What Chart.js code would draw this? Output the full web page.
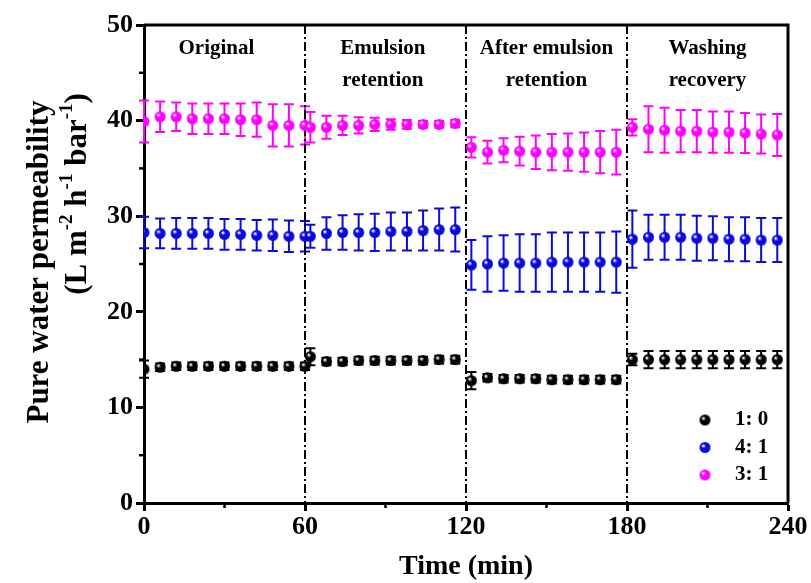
<!DOCTYPE html>
<html>
<head>
<meta charset="utf-8">
<script src="https://cdn.jsdelivr.net/npm/chart.js@4"></script>
<style>
  html, body { margin: 0; padding: 0; background: #fff; }
  #wrap { width: 811px; height: 583px; }
</style>
</head>
<body>
<div id="wrap"><canvas id="permChart" width="811" height="583"></canvas></div>
<script>
// time points (min)
const timeMin = [0, 6, 12, 18, 24, 30, 36, 42, 48, 54, 60,
  62, 68, 74, 80, 86, 92, 98, 104, 110, 116,
  122, 128, 134, 140, 146, 152, 158, 164, 170, 176,
  182, 188, 194, 200, 206, 212, 218, 224, 230, 236];

const seriesLabels = ["1: 0", "4: 1", "3: 1"];

const flux10 = [14.0, 14.2, 14.3, 14.3, 14.3, 14.3, 14.3, 14.3, 14.3, 14.3, 14.3,
  15.3, 14.8, 14.8, 14.9, 14.9, 14.9, 14.9, 14.9, 15.0, 15.0,
  12.8, 13.1, 13.0, 13.0, 13.0, 12.9, 12.9, 12.9, 12.9, 12.9,
  15.0, 15.0, 15.0, 15.0, 15.0, 15.0, 15.0, 15.0, 15.0, 15.0];
const err10 = [0.9, 0.4, 0.4, 0.4, 0.4, 0.4, 0.4, 0.4, 0.4, 0.4, 0.4,
  0.9, 0.4, 0.4, 0.4, 0.4, 0.4, 0.4, 0.4, 0.4, 0.4,
  0.9, 0.4, 0.4, 0.4, 0.4, 0.4, 0.4, 0.4, 0.4, 0.4,
  0.6, 0.9, 0.9, 0.9, 0.9, 0.9, 0.9, 0.9, 0.9, 0.9];

const flux41 = [28.3, 28.2, 28.2, 28.2, 28.2, 28.1, 28.1, 28.0, 28.0, 27.9, 27.9,
  27.9, 28.2, 28.3, 28.3, 28.3, 28.4, 28.4, 28.5, 28.6, 28.6,
  24.9, 25.0, 25.1, 25.1, 25.1, 25.2, 25.2, 25.2, 25.2, 25.2,
  27.6, 27.8, 27.8, 27.8, 27.7, 27.7, 27.6, 27.6, 27.5, 27.5];
const err41 = [1.65, 1.55, 1.6, 1.6, 1.6, 1.6, 1.6, 1.6, 1.65, 1.65, 1.6,
  1.2, 1.7, 1.8, 1.9, 1.95, 2.0, 2.0, 2.1, 2.2, 2.3,
  2.6, 2.9, 2.9, 3.0, 3.0, 3.1, 3.1, 3.1, 3.1, 3.2,
  3.0, 2.35, 2.35, 2.35, 2.35, 2.3, 2.3, 2.3, 2.3, 2.3];

const flux31 = [39.9, 40.4, 40.4, 40.2, 40.2, 40.2, 40.1, 40.1, 39.5, 39.5, 39.5,
  39.3, 39.3, 39.5, 39.5, 39.6, 39.6, 39.6, 39.6, 39.6, 39.7,
  37.2, 36.7, 36.9, 36.8, 36.7, 36.7, 36.7, 36.7, 36.7, 36.7,
  39.3, 39.1, 39.0, 38.9, 38.9, 38.8, 38.8, 38.7, 38.6, 38.5];
const err31 = [2.2, 1.6, 1.5, 1.6, 1.6, 1.6, 1.7, 1.8, 2.2, 2.2, 2.0,
  1.6, 1.2, 1.0, 0.85, 0.7, 0.55, 0.45, 0.35, 0.35, 0.4,
  1.05, 1.2, 1.25, 1.5, 1.75, 1.9, 1.95, 2.05, 2.2, 2.35,
  0.85, 2.4, 2.35, 2.2, 2.2, 2.15, 2.15, 2.1, 2.05, 2.2];

const stageBreaks = [60, 120, 180];
const stageNames = [["Original"], ["Emulsion", "retention"], ["After emulsion", "retention"], ["Washing", "recovery"]];
const stageCenters = [27, 89, 150, 210];

const colors = ["#000000", "#0a0adf", "#ff00ff"];
const serif = "'Liberation Serif', 'Times New Roman', serif";

// shaded ball marker
function ball(color, r) {
  const c = document.createElement("canvas");
  c.width = c.height = r * 2 + 2;
  const g = c.getContext("2d");
  const cx = r + 1;
  const grad = g.createRadialGradient(cx - r * 0.35, cx - r * 0.35, 0.5, cx, cx, r);
  grad.addColorStop(0, "#ffffff");
  grad.addColorStop(0.35, color);
  grad.addColorStop(1, color);
  g.fillStyle = grad;
  g.beginPath();
  g.arc(cx, cx, r, 0, Math.PI * 2);
  g.fill();
  return c;
}
const markers = colors.map(c => ball(c, 5.5));

function pts(ys) {
  return timeMin.map((t, i) => ({ x: t, y: ys[i] }));
}
const errs = [err10, err41, err31];

const errorBars = {
  id: "errorBars",
  beforeDatasetsDraw(chart) {
    const ctx = chart.ctx, xs = chart.scales.x, ys = chart.scales.y;
    ctx.save();
    chart.data.datasets.forEach((ds, di) => {
      ctx.strokeStyle = colors[di];
      ctx.lineWidth = 2;
      ds.data.forEach((p, i) => {
        const x = xs.getPixelForValue(p.x);
        const yt = ys.getPixelForValue(p.y + errs[di][i]);
        const yb = ys.getPixelForValue(p.y - errs[di][i]);
        ctx.beginPath();
        ctx.moveTo(x, yt); ctx.lineTo(x, yb);
        ctx.moveTo(x - 5, yt); ctx.lineTo(x + 5, yt);
        ctx.moveTo(x - 5, yb); ctx.lineTo(x + 5, yb);
        ctx.stroke();
      });
    });
    ctx.restore();
  }
};

const decor = {
  id: "decor",
  beforeDatasetsDraw(chart) {
    const ctx = chart.ctx, a = chart.chartArea, xs = chart.scales.x;
    ctx.save();
    // stage separators
    ctx.strokeStyle = "#000";
    ctx.lineWidth = 2;
    ctx.setLineDash([9, 3, 2, 3]);
    stageBreaks.forEach(t => {
      const x = xs.getPixelForValue(t);
      ctx.beginPath(); ctx.moveTo(x, a.top); ctx.lineTo(x, a.bottom); ctx.stroke();
    });
    ctx.setLineDash([]);
    // stage names
    ctx.fillStyle = "#000";
    ctx.font = "bold 21px " + serif;
    ctx.textAlign = "center";
    ctx.textBaseline = "middle";
    stageNames.forEach((lines, i) => {
      const x = xs.getPixelForValue(stageCenters[i]);
      lines.forEach((s, j) => ctx.fillText(s, x, 49 + j * 32));
    });
    ctx.restore();
  },
  afterDraw(chart) {
    const ctx = chart.ctx, a = chart.chartArea, xs = chart.scales.x, ys = chart.scales.y;
    ctx.save();
    ctx.strokeStyle = "#000";
    // frame top/right
    ctx.lineWidth = 3;
    ctx.beginPath();
    ctx.moveTo(a.left, a.top); ctx.lineTo(a.right, a.top); ctx.lineTo(a.right, a.bottom);
    ctx.stroke();
    // minor ticks
    ctx.lineWidth = 2.5;
    [5, 15, 25, 35, 45].forEach(v => {
      const y = ys.getPixelForValue(v);
      ctx.beginPath(); ctx.moveTo(a.left - 5, y); ctx.lineTo(a.left, y); ctx.stroke();
    });
    [30, 90, 150, 210].forEach(v => {
      const x = xs.getPixelForValue(v);
      ctx.beginPath(); ctx.moveTo(x, a.bottom); ctx.lineTo(x, a.bottom + 5); ctx.stroke();
    });
    // axis titles
    ctx.fillStyle = "#000";
    ctx.textBaseline = "middle";
    ctx.textAlign = "center";
    ctx.font = "bold 28px " + serif;
    ctx.fillText("Time (min)", 466, 567);
    ctx.font = "bold 31px " + serif;
    ctx.save();
    ctx.translate(40, 262);
    ctx.rotate(-Math.PI / 2);
    ctx.fillText("Pure water permeability", 0, 0);
    ctx.restore();
    // second line with superscripts
    const parts = [["(L m", 0], ["-2", 1], [" h", 0], ["-1", 1], [" bar", 0], ["-1", 1], [")", 0]];
    const big = "bold 31px " + serif, small = "bold 19px " + serif;
    let w = 0;
    parts.forEach(p => { ctx.font = p[1] ? small : big; w += ctx.measureText(p[0]).width; });
    ctx.save();
    ctx.translate(78, 194);
    ctx.rotate(-Math.PI / 2);
    ctx.textAlign = "left";
    let x = -w / 2;
    parts.forEach(p => {
      ctx.font = p[1] ? small : big;
      ctx.fillText(p[0], x, p[1] ? -11 : 0);
      x += ctx.measureText(p[0]).width;
    });
    ctx.restore();
    // legend
    ctx.font = "bold 21px " + serif;
    ctx.textAlign = "left";
    chart.data.datasets.forEach((ds, i) => {
      const y = 420 + i * 27.5;
      ctx.drawImage(markers[i], 705 - 6.5, y - 6.5);
      ctx.fillText(ds.label, 735, y);
    });
    ctx.restore();
  }
};

new Chart(document.getElementById("permChart").getContext("2d"), {
  type: "scatter",
  data: {
    datasets: [0, 1, 2].map(i => ({
      label: seriesLabels[i],
      data: pts([flux10, flux41, flux31][i]),
      pointStyle: markers[i],
      pointRadius: 5.5,
      showLine: false
    }))
  },
  options: {
    responsive: false,
    animation: false,
    layout: { padding: { top: 25, right: 23, left: 0, bottom: 0 } },
    plugins: { legend: { display: false }, tooltip: { enabled: false } },
    scales: {
      x: {
        type: "linear", min: 0, max: 240,
        ticks: { stepSize: 60, color: "#000", font: { family: serif, size: 26, weight: "bold" }, padding: 1 },
        grid: { drawOnChartArea: false, tickLength: 8, tickWidth: 3, tickColor: "#000" },
        border: { color: "#000", width: 3 },
        afterFit(s) { s.height = 80; }
      },
      y: {
        min: 0, max: 50,
        ticks: { stepSize: 10, color: "#000", font: { family: serif, size: 26, weight: "bold" }, padding: 3 },
        grid: { drawOnChartArea: false, tickLength: 8, tickWidth: 3, tickColor: "#000" },
        border: { color: "#000", width: 3 },
        afterFit(s) { s.width = 144; }
      }
    }
  },
  plugins: [errorBars, decor]
});
</script>
</body>
</html>
